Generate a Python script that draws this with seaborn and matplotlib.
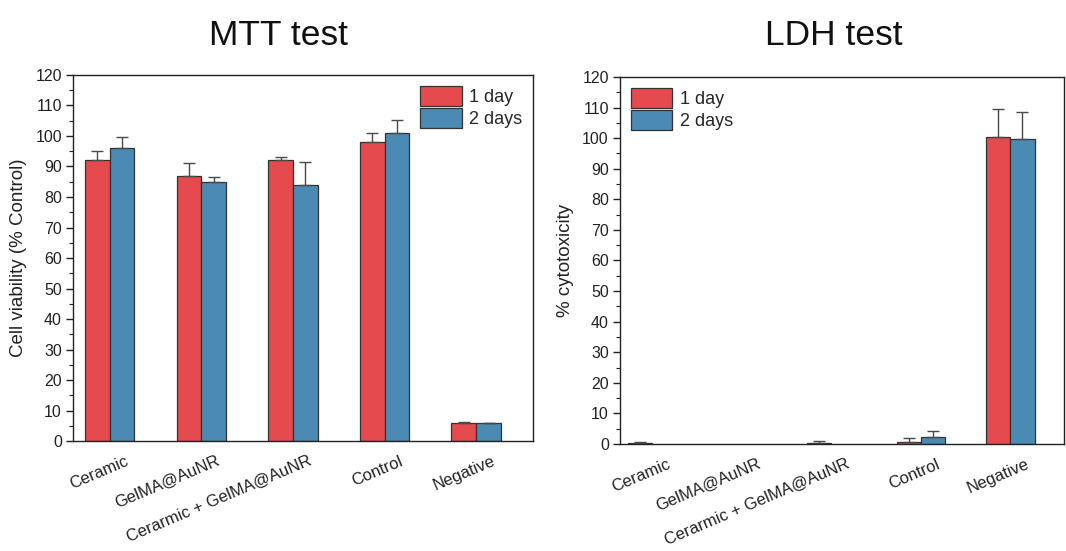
import numpy as np
import pandas as pd
import matplotlib
matplotlib.use("Agg")
import matplotlib.pyplot as plt
import matplotlib.transforms as mtrans
import seaborn as sns
from matplotlib.ticker import MultipleLocator
from matplotlib.patches import Patch

categories = ["Ceramic", "GelMA@AuNR", "Cerarmic + GelMA@AuNR", "Control", "Negative"]
days = ["1 day", "2 days"]

mtt_day1 = [92.0, 87.0, 92.0, 98.0, 5.8]
mtt_day1_err = [3.0, 4.0, 1.0, 3.1, 0.3]
mtt_day2 = [96.0, 85.0, 84.0, 101.0, 5.8]
mtt_day2_err = [3.8, 1.4, 7.6, 4.4, 0.1]

ldh_day1 = [0.3, 0.0, 0.3, 0.7, 100.5]
ldh_day1_err = [0.35, 0.0, 0.8, 1.4, 8.9]
ldh_day2 = [0.0, 0.0, 0.0, 2.4, 99.8]
ldh_day2_err = [0.0, 0.0, 0.0, 1.9, 8.7]

colors = ["#E54B4E", "#4A8AB3"]

sns.set_theme(style="white")
plt.rcParams['font.family'] = ['Liberation Sans', 'DejaVu Sans']

fig = plt.figure(figsize=(10.66, 5.51), dpi=100)
ax1 = fig.add_axes([0.0685, 0.1996, 0.4315, 0.6643])
ax2 = fig.add_axes([0.5816, 0.1942, 0.4166, 0.6661])


def make_df(v1, e1, v2, e2):
    rows = []
    for c, a, ea, b, eb in zip(categories, v1, e1, v2, e2):
        rows.append({"cat": c, "day": days[0], "val": a, "err": ea})
        rows.append({"cat": c, "day": days[1], "val": b, "err": eb})
    return pd.DataFrame(rows)


def draw(ax, df, ylabel, xlim, legend_loc, legend_anchor):
    sns.barplot(data=df, x="cat", y="val", hue="day", order=categories,
                hue_order=days, palette=colors, width=0.54, errorbar=None,
                edgecolor="#333333", linewidth=0.9, saturation=1, ax=ax,
                legend=False)
    for i, d in enumerate(days):
        cont = ax.containers[i]
        sub = df[df.day == d].set_index("cat").loc[categories]
        for p, (v, e) in zip(cont.patches, zip(sub["val"].values, sub["err"].values)):
            if v <= 0:
                p.set_visible(False)
            if e <= 0:
                continue
            ax.errorbar([p.get_x() + p.get_width() / 2], [v],
                        yerr=[[0], [e]], fmt="none", ecolor="#4a4a4a",
                        elinewidth=1.0, capsize=4, capthick=1.0)
    ax.set_xlim(*xlim)
    ax.set_ylim(0, 120)
    ax.yaxis.set_major_locator(MultipleLocator(10))
    ax.yaxis.set_minor_locator(MultipleLocator(5))
    ax.tick_params(axis="y", which="major", direction="out", length=5,
                   width=1, color="#222222", left=True, labelsize=11.5,
                   labelcolor="#222222", pad=3)
    ax.tick_params(axis="y", which="minor", direction="out", length=3,
                   width=0.8, color="#222222", left=True)
    ax.tick_params(axis="x", length=0, labelsize=12, labelcolor="#222222", pad=9)
    ax.set_xticks(range(len(categories)))
    ax.set_xticklabels(categories, rotation=23, ha="right",
                       rotation_mode="anchor")
    offset = mtrans.ScaledTranslation(0.15, 0, fig.dpi_scale_trans)
    for lbl in ax.get_xticklabels():
        lbl.set_transform(lbl.get_transform() + offset)
    ax.set_xlabel("")
    ax.set_ylabel(ylabel, fontsize=13.5, color="#222222", labelpad=6)
    for s in ax.spines.values():
        s.set_color("#222222")
        s.set_linewidth(1.0)
    handles = [Patch(facecolor=colors[k], edgecolor="#333333", linewidth=0.9,
                     label=days[k]) for k in range(2)]
    ax.legend(handles=handles, loc=legend_loc, bbox_to_anchor=legend_anchor,
              frameon=False, fontsize=13, handlelength=2.3, handleheight=1.35,
              handletextpad=0.4, labelspacing=0.1, borderaxespad=0.2)


draw(ax1, make_df(mtt_day1, mtt_day1_err, mtt_day2, mtt_day2_err),
     "Cell viability (% Control)", (-0.4, 4.62), "upper right", (1.0, 1.0))
draw(ax2, make_df(ldh_day1, ldh_day1_err, ldh_day2, ldh_day2_err),
     "% cytotoxicity", (-0.36, 4.6), "upper left", (0.0, 1.0))

fig.text(0.261, 0.935, "MTT test", ha="center", va="center", fontsize=25.5,
         color="#111111")
fig.text(0.782, 0.935, "LDH test", ha="center", va="center", fontsize=25.5,
         color="#111111")

fig.savefig("out.png", dpi=100)
